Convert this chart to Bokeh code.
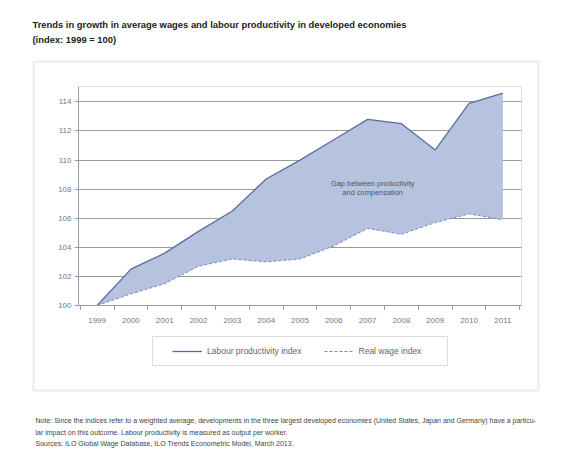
from bokeh.plotting import figure
from bokeh.models import (Range1d, FixedTicker, Label, Legend, LegendItem,
                          BoxAnnotation, LinearAxis, Grid)
from bokeh.embed import file_html
from bokeh.resources import INLINE

# ---- data ----
years = [1999, 2000, 2001, 2002, 2003, 2004, 2005, 2006, 2007, 2008, 2009, 2010, 2011]
productivity = [100.0, 102.5, 103.6, 105.1, 106.5, 108.7, 110.0, 111.4, 112.8, 112.5, 110.7, 113.9, 114.6]
real_wage = [100.0, 100.8, 101.5, 102.7, 103.2, 103.0, 103.2, 104.1, 105.3, 104.9, 105.7, 106.3, 105.9]
y_ticks = [100, 102, 104, 106, 108, 110, 112, 114]
series_names = ["Labour productivity index", "Real wage index"]
title_lines = ["Trends in growth in average wages and labour productivity in developed economies",
               "(index: 1999 = 100)"]
gap_label = ["Gap between productivity", "and compensation"]
note_lines = [
    "Note: Since the indices refer to a weighted average, developments in the three largest developed economies (United States, Japan and Germany) have a particu-",
    "lar impact on this outcome. Labour productivity is measured as output per worker.",
    "Sources: ILO Global Wage Database, ILO Trends Econometric Model, March 2013.",
]

FONT = "Liberation Sans"
LINE_C = "#5d6b9e"
FILL_C = "#b6c3de"
WAGE_C = "#7d86c2"
GRID_C = "#9a9a9a"
TEXT_C = "#666666"

W, H = 572, 456
# inner plot area (canvas pixels, from top-left) and its data extents
PL, PR, PT, PB = 78, 521, 86, 305
X0, X1 = 1998.45, 2011.55
Y0, Y1 = 100.0, 115.06
xs = (PR - PL) / (X1 - X0)
ys = (PB - PT) / (Y1 - Y0)


def sy(page_y):
    """canvas y measured from the top -> screen units (from the bottom)"""
    return H - page_y


p = figure(width=W, height=H, output_backend="svg", toolbar_location=None,
           x_range=Range1d(X0 - PL / xs, X1 + (W - PR) / xs),
           y_range=Range1d(Y0 - (H - PB) / ys, Y1 + PT / ys),
           x_axis_location=None, y_axis_location=None, min_border=0)
p.background_fill_color = "white"
p.border_fill_color = "white"
p.outline_line_color = None
p.xgrid.visible = False
p.ygrid.visible = False

# outer frame box
p.add_layout(BoxAnnotation(left=33, right=538, top=sy(61), bottom=sy(390),
                           left_units="screen", right_units="screen",
                           top_units="screen", bottom_units="screen",
                           fill_color=None, fill_alpha=0,
                           line_color="#b3bbe2", line_width=2, level="underlay"))

# grid lines
ygrid = Grid(dimension=1, ticker=FixedTicker(ticks=y_ticks),
             grid_line_color=GRID_C, grid_line_width=1, bounds=(Y0, Y1))
try:
    ygrid.cross_bounds = (X0, X1)
    p.add_layout(ygrid)
except Exception:
    p.segment(x0=[X0] * len(y_ticks), x1=[X1] * len(y_ticks), y0=y_ticks, y1=y_ticks,
              line_color=GRID_C, line_width=1)

# area and lines
p.varea(x=years, y1=real_wage, y2=productivity, fill_color=FILL_C, fill_alpha=1)
r1 = p.line(years, productivity, line_color=LINE_C, line_width=1.3)
r2 = p.line(years, real_wage, line_color=WAGE_C, line_width=1, line_dash="3 2")

# plot frame outline
p.add_layout(BoxAnnotation(left=X0, right=X1, bottom=Y0, top=Y1,
                           fill_color=None, fill_alpha=0,
                           line_color=GRID_C, line_width=1))

# axes drawn at fixed locations
xaxis = LinearAxis(fixed_location=Y0, bounds=(X0, X1),
                   ticker=FixedTicker(ticks=years,
                                      minor_ticks=[y + 0.5 for y in [1998] + years]))
xaxis.major_tick_line_color = None
xaxis.minor_tick_line_color = GRID_C
xaxis.minor_tick_out = 4
xaxis.minor_tick_in = 0
xaxis.major_label_standoff = 6
yaxis = LinearAxis(fixed_location=X0, bounds=(Y0, Y1), ticker=FixedTicker(ticks=y_ticks))
yaxis.major_tick_out = 4
yaxis.major_tick_in = 0
yaxis.minor_tick_line_color = None
yaxis.major_tick_line_color = GRID_C
yaxis.major_label_standoff = 3
for ax in (xaxis, yaxis):
    ax.axis_line_color = GRID_C
    ax.major_label_text_font = FONT
    ax.major_label_text_font_size = "8px"
    ax.major_label_text_color = "#777777"
p.add_layout(xaxis, "below")
p.add_layout(yaxis, "left")

# legend box
p.add_layout(BoxAnnotation(left=152, right=447, top=sy(336), bottom=sy(365),
                           left_units="screen", right_units="screen",
                           top_units="screen", bottom_units="screen",
                           fill_color=None, fill_alpha=0,
                           line_color="#8a8a8a", line_width=1))

legend = Legend(items=[LegendItem(label=series_names[0], renderers=[r1]),
                       LegendItem(label=series_names[1], renderers=[r2])],
                location=(172, sy(356)), orientation="horizontal",
                padding=0, margin=0, spacing=22, glyph_width=30, glyph_height=10,
                label_standoff=5, border_line_alpha=0, background_fill_alpha=0,
                label_text_font=FONT, label_text_font_size="8.5px",
                label_text_color=TEXT_C)
p.add_layout(legend)

# title
for i, t in enumerate(title_lines):
    p.add_layout(Label(x=32, y=sy(24) - 14.5 * i, x_units="screen", y_units="screen",
                       text=t, text_font=FONT, text_font_style="bold",
                       text_font_size="9.4px", text_color="#222222",
                       text_baseline="middle", text_align="left"))

# gap annotation
for i, t in enumerate(gap_label):
    p.add_layout(Label(x=2007.15, y=108.4 - 0.62 * i, text=t, text_font=FONT,
                       text_font_size="7.4px", text_color="#555555",
                       text_align="center", text_baseline="middle"))

# notes
for i, t in enumerate(note_lines):
    p.add_layout(Label(x=35, y=sy(420) - 11.5 * i, x_units="screen", y_units="screen",
                       text=t, text_font=FONT, text_font_size="7px",
                       text_color="#444444", text_baseline="middle",
                       text_align="left"))

open("out.html", "w").write(file_html(p, INLINE))
